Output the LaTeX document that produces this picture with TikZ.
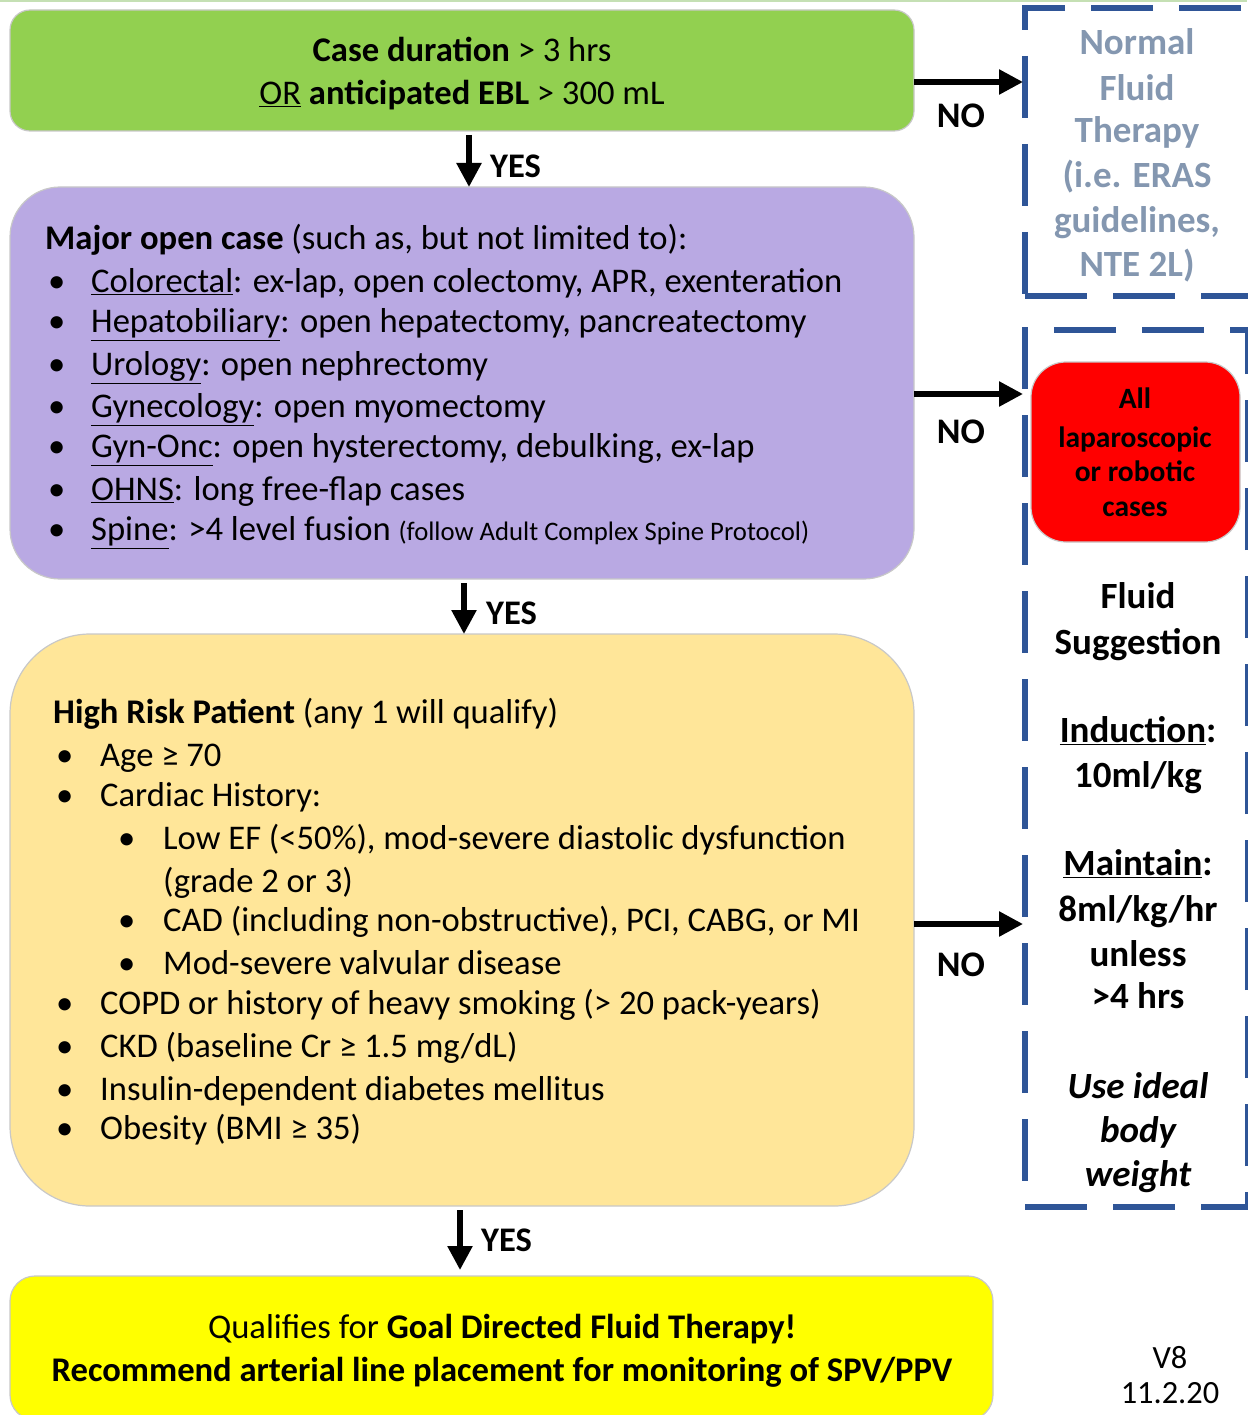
\documentclass[tikz,border=0pt]{standalone}
\usepackage{fontspec}
\setmainfont{Carlito}
\usetikzlibrary{arrows.meta}
\definecolor{cgreen}{HTML}{92D050}
\definecolor{cpurple}{HTML}{B9A9E3}
\definecolor{corange}{HTML}{FFE699}
\definecolor{cyellow}{HTML}{FFFF00}
\definecolor{cred}{HTML}{FF0000}
\definecolor{cdash}{HTML}{2F5597}
\definecolor{cgraytxt}{HTML}{8497B0}
\definecolor{cedge}{HTML}{C8C8C8}
\definecolor{ctopline}{HTML}{C5E0B4}
\begin{document}
\begin{tikzpicture}[x=1pt,y=-1pt,
  panel/.style={draw=cedge,line width=1.2pt,inner sep=0,outer sep=0},
  dashbox/.style={draw=cdash,line width=6pt,dash pattern=on 62pt off 26pt,inner sep=0,outer sep=0},
  arr/.style={line width=5.5pt,-{Triangle[width=24pt,length=24pt]}},
  body/.style={font=\fontsize{34.6}{40}\selectfont,inner sep=0,anchor=mid west,yshift=-9.5pt},
  ctr/.style={font=\fontsize{34.6}{40}\selectfont,inner sep=0,anchor=mid,yshift=-9.5pt},
  side/.style={font=\fontsize{37}{42}\selectfont\bfseries,inner sep=0,anchor=mid,yshift=-9.5pt},
  redtxt/.style={font=\fontsize{29.5}{34}\selectfont\bfseries,inner sep=0,anchor=mid,yshift=-8pt},
  lab/.style={inner sep=0,yshift=-9pt},
]
\useasboundingbox (0,0) rectangle (1247,1415);
\fill[ctopline] (0,0) rectangle (1247,2.5);

% main boxes
\node[panel,fill=cgreen,rounded corners=20pt,minimum width=904pt,minimum height=121pt] (green) at (462,70.5) {};
\node[panel,fill=cpurple,rounded corners=50pt,minimum width=904pt,minimum height=392pt] (purple) at (462,383) {};
\node[panel,fill=corange,rounded corners=80pt,minimum width=904pt,minimum height=572pt] (orange) at (462,920) {};
\node[panel,fill=cyellow,rounded corners=25pt,minimum width=983pt,minimum height=144pt] (final) at (501.5,1348) {};

% right dashed boxes
\node[dashbox,minimum width=228pt,minimum height=288pt] (nft) at (1139,152) {};
\node[dashbox,minimum width=223pt,minimum height=877pt] (sugg) at (1136.5,768.5) {};
\node[panel,fill=cred,rounded corners=35pt,minimum width=209pt,minimum height=180pt] (red) at (1135.5,452) {};

% arrow coordinates
\coordinate (a1) at (469,0);
\coordinate (a2) at (464,0);
\coordinate (a3) at (460,0);
\coordinate (h1) at (0,82);
\coordinate (h2) at (0,394);
\coordinate (h3) at (0,924);

\draw[arr] ([yshift=-4pt]green.south -| a1) -- (purple.north -| a1);
\draw[arr] ([yshift=-4pt]purple.south -| a2) -- (orange.north -| a2);
\draw[arr] ([yshift=-4pt]orange.south -| a3) -- ([yshift=6pt]final.north -| a3);
\draw[arr] (green.east |- h1) -- ([xshift=-2pt]nft.west |- h1);
\draw[arr] (purple.east |- h2) -- ([xshift=-2pt]sugg.west |- h2);
\draw[arr] (orange.east |- h3) -- ([xshift=-2pt]sugg.west |- h3);

\node[lab,anchor=mid west,font=\fontsize{34.5}{40}\selectfont\bfseries] (yes1) at (490,166) {YES};
\node[lab,anchor=mid west,font=\fontsize{34.5}{40}\selectfont\bfseries] (yes2) at (486,613) {YES};
\node[lab,anchor=mid west,font=\fontsize{34.5}{40}\selectfont\bfseries] (yes3) at (481,1240) {YES};
\node[lab,anchor=mid,font=\fontsize{36}{40}\selectfont\bfseries] (no1) at (961,116) {NO};
\node[lab,anchor=mid,font=\fontsize{36}{40}\selectfont\bfseries] (no2) at (961,432) {NO};
\node[lab,anchor=mid,font=\fontsize{36}{40}\selectfont\bfseries] (no3) at (961,965) {NO};

% green text
\node[ctr] (g1) at (462,50) {\textbf{Case duration} > 3 hrs};
\node[ctr] (g2) at (462,93) {\underline{OR} \textbf{anticipated EBL} > 300 mL};

% purple text
\node[body] (p0) at (45,238) {\textbf{Major open case} (such as, but not limited to):};
\foreach \yy/\nm in {281/pb1,321/pb2,364/pb3,406/pb4,446/pb5,489/pb6,529/pb7}
  \node[body] (\nm) at (48,\yy) {\textbullet};
\node[body] (p1) at (91,281) {\underline{Colorectal}: ex-lap, open colectomy, APR, exenteration};
\node[body] (p2) at (91,321) {\underline{Hepatobiliary}: open hepatectomy, pancreatectomy};
\node[body] (p3) at (91,364) {\underline{Urology}: open nephrectomy};
\node[body] (p4) at (91,406) {\underline{Gynecology}: open myomectomy};
\node[body] (p5) at (91,446) {\underline{Gyn-Onc}: open hysterectomy, debulking, ex-lap};
\node[body] (p6) at (91,489) {\underline{OHNS}: long free-flap cases};
\node[body] (p7) at (91,529) {\underline{Spine}: >4 level fusion {\fontsize{26.7}{30}\selectfont(follow Adult Complex Spine Protocol)}};

% orange text
\node[body] (o0) at (53,712) {\textbf{High Risk Patient} (any 1 will qualify)};
\foreach \yy/\nm in {755/ob1,795/ob2,1003/ob3,1046/ob4,1089/ob5,1128/ob6}
  \node[body] (\nm) at (56,\yy) {\textbullet};
\foreach \yy/\nm in {838/os1,920/os2,963/os3}
  \node[body] (\nm) at (118,\yy) {\textbullet};
\node[body] (o1) at (100,755) {Age ≥ 70};
\node[body] (o2) at (100,795) {Cardiac History:};
\node[body] (o3) at (163,838) {Low EF (<50\%), mod-severe diastolic dysfunction};
\node[body] (o4) at (163,881) {(grade 2 or 3)};
\node[body] (o5) at (163,920) {CAD (including non-obstructive), PCI, CABG, or MI};
\node[body] (o6) at (163,963) {Mod-severe valvular disease};
\node[body] (o7) at (100,1003) {COPD or history of heavy smoking (> 20 pack-years)};
\node[body] (o8) at (100,1046) {CKD (baseline Cr ≥ 1.5 mg/dL)};
\node[body] (o9) at (100,1089) {Insulin-dependent diabetes mellitus};
\node[body] (o10) at (100,1128) {Obesity (BMI ≥ 35)};

% final text
\node[ctr] (f1) at (502,1327) {Qualifies for \textbf{Goal Directed Fluid Therapy!}};
\node[ctr] (f2) at (502,1370) {\textbf{Recommend arterial line placement for monitoring of SPV/PPV}};

% version
\node[ctr,font=\fontsize{32.4}{36}\selectfont] (v1) at (1170,1357) {V8};
\node[ctr,font=\fontsize{32.4}{36}\selectfont] (v2) at (1170,1392) {11.2.20};

% normal fluid therapy text
\foreach \yy/\tx/\nm in {43/Normal/n1,89/Fluid/n2,131/Therapy/n3,176/(i.e. ERAS/n4,221/{guidelines,}/n5,265/NTE 2L)/n6}
  \node[side,text=cgraytxt] (\nm) at (1137,\yy) {\tx};

% red text
\node[redtxt] (r1) at (1135,398) {All};
\node[redtxt] (r2) at (1135,437) {laparoscopic};
\node[redtxt] (r3) at (1135,471) {or robotic};
\node[redtxt] (r4) at (1135,506) {cases};

% suggestion text
\node[side] (s1) at (1138,597) {Fluid};
\node[side] (s2) at (1138,643) {Suggestion};
\node[side] (s3) at (1138,731) {\underline{Induction}:};
\node[side] (s4) at (1138,776) {10ml/kg};
\node[side] (s5) at (1138,864) {\underline{Maintain}:};
\node[side] (s6) at (1138,910) {8ml/kg/hr};
\node[side] (s7) at (1138,955) {unless};
\node[side] (s8) at (1138,997) {>4 hrs};
\node[side] (s9) at (1138,1087) {\itshape Use ideal};
\node[side] (s10) at (1138,1131) {\itshape body};
\node[side] (s11) at (1138,1175) {\itshape weight};
\end{tikzpicture}
\end{document}
